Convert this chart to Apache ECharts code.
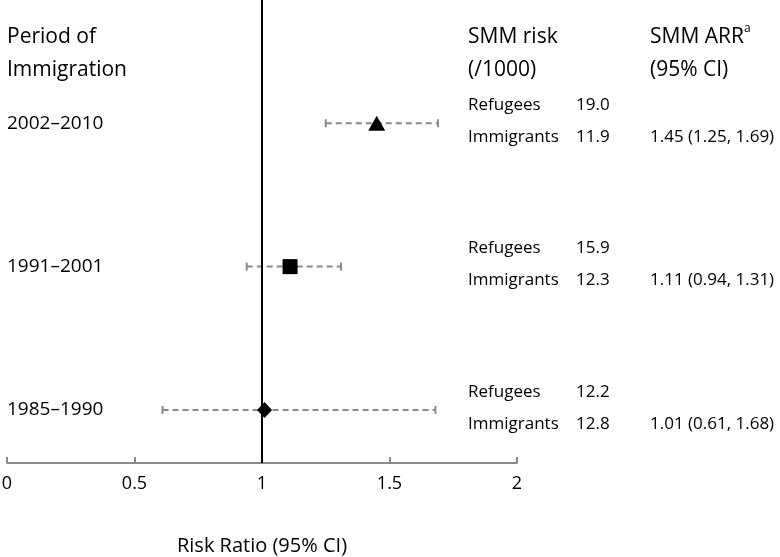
<!DOCTYPE html>
<html><head><meta charset="utf-8">
<script src="https://cdn.jsdelivr.net/npm/echarts@6/dist/echarts.min.js"></script>
<style>html,body{margin:0;padding:0;background:#fff}#c{width:780px;height:557px}</style>
</head><body><div id="c"></div>
<script>
const periods = ['2002–2010', '1991–2001', '1985–1990'];
const rowPos = [3, 2, 1];
const arr = [1.45, 1.11, 1.01];
const ciLow = [1.25, 0.94, 0.61];
const ciHigh = [1.69, 1.31, 1.68];
const refugeeRisk = ['19.0', '15.9', '12.2'];
const immigrantRisk = ['11.9', '12.3', '12.8'];
const arrText = ['1.45 (1.25, 1.69)', '1.11 (0.94, 1.31)', '1.01 (0.61, 1.68)'];
const symbols = ['triangle', 'rect', 'diamond'];
const symbolSizes = [[17, 15], [15, 15], [15, 16]];
const xTicks = [0, 0.5, 1, 1.5, 2];

const FONT = 'Open Sans';
const chart = echarts.init(document.getElementById('c'));

chart.setOption({
  animation: false,
  backgroundColor: '#fff',
  grid: { left: 7, right: 263, top: 0, bottom: 94, containLabel: false, outerBoundsMode: 'none' },
  xAxis: {
    type: 'value', min: 0, max: 2, interval: 0.5,
    axisLine: { show: true, lineStyle: { color: '#8a8a8a', width: 2 } },
    axisTick: { show: true, inside: true, length: 6, lineStyle: { color: '#8a8a8a', width: 2 } },
    splitLine: { show: false },
    axisLabel: { color: '#000', fontFamily: FONT, fontSize: 18, margin: 12,
      formatter: v => xTicks.includes(v) ? String(v) : '' },
    name: 'Risk Ratio (95% CI)', nameLocation: 'middle', nameGap: 73,
    nameTextStyle: { color: '#000', fontFamily: FONT, fontSize: 20 }
  },
  yAxis: { type: 'value', min: 0.63, max: 3.86, show: false },
  series: [
    {
      type: 'custom',
      clip: false,
      data: rowPos.map((r, i) => [ciLow[i], ciHigh[i], r]),
      renderItem: (params, api) => {
        const p1 = api.coord([api.value(0), api.value(2)]);
        const p2 = api.coord([api.value(1), api.value(2)]);
        const st = { stroke: '#8a8a8a', lineWidth: 2 };
        return { type: 'group', children: [
          { type: 'line', shape: { x1: p1[0], y1: p1[1], x2: p2[0], y2: p2[1] },
            style: { stroke: '#8a8a8a', lineWidth: 2, lineDash: [6, 4] } },
          { type: 'line', shape: { x1: p1[0], y1: p1[1] - 4, x2: p1[0], y2: p1[1] + 4 }, style: st },
          { type: 'line', shape: { x1: p2[0], y1: p2[1] - 4, x2: p2[0], y2: p2[1] + 4 }, style: st }
        ] };
      },
      z: 2
    },
    {
      type: 'line',
      data: [],
      markLine: {
        silent: true, symbol: 'none', label: { show: false },
        lineStyle: { color: '#000', width: 2, type: 'solid' },
        data: [{ xAxis: 1 }]
      },
      z: 3
    },
    ...rowPos.map((r, i) => ({
      type: 'scatter',
      data: [[arr[i], r]],
      symbol: symbols[i],
      symbolSize: symbolSizes[i],
      itemStyle: { color: '#000', opacity: 1 },
      z: 5
    })),
    {
      type: 'custom',
      clip: false,
      data: rowPos.map((r, i) => [r, i]),
      renderItem: (params, api) => {
        const i = api.value(1);
        const y = api.coord([0, api.value(0)])[1];
        const base = { fill: '#000', fontFamily: FONT, fontSize: 17, textVerticalAlign: 'middle' };
        return { type: 'group', children: [
          { type: 'text', style: Object.assign({}, base, { text: periods[i], x: 7, y: y, fontSize: 19 }) },
          { type: 'text', style: Object.assign({}, base, { text: 'Refugees', x: 468, y: y - 18 }) },
          { type: 'text', style: Object.assign({}, base, { text: refugeeRisk[i], x: 576, y: y - 18 }) },
          { type: 'text', style: Object.assign({}, base, { text: 'Immigrants', x: 468, y: y + 14 }) },
          { type: 'text', style: Object.assign({}, base, { text: immigrantRisk[i], x: 576, y: y + 14 }) },
          { type: 'text', style: Object.assign({}, base, { text: arrText[i], x: 650, y: y + 14 }) }
        ] };
      },
      z: 6
    }
  ],
  graphic: [
    { type: 'text', left: 7, top: 21, style: { text: 'Period of\nImmigration', fill: '#000', font: '21px "Open Sans"', lineHeight: 33 } },
    { type: 'text', left: 468, top: 21, style: { text: 'SMM risk\n(/1000)', fill: '#000', font: '21px "Open Sans"', lineHeight: 33 } },
    { type: 'text', left: 650, top: 21, style: { text: 'SMM ARR\n(95% CI)', fill: '#000', font: '21px "Open Sans"', lineHeight: 33 } },
    { type: 'text', left: 744, top: 23, style: { text: 'a', fill: '#000', font: '12px "Open Sans"' } }
  ]
});
</script></body></html>
